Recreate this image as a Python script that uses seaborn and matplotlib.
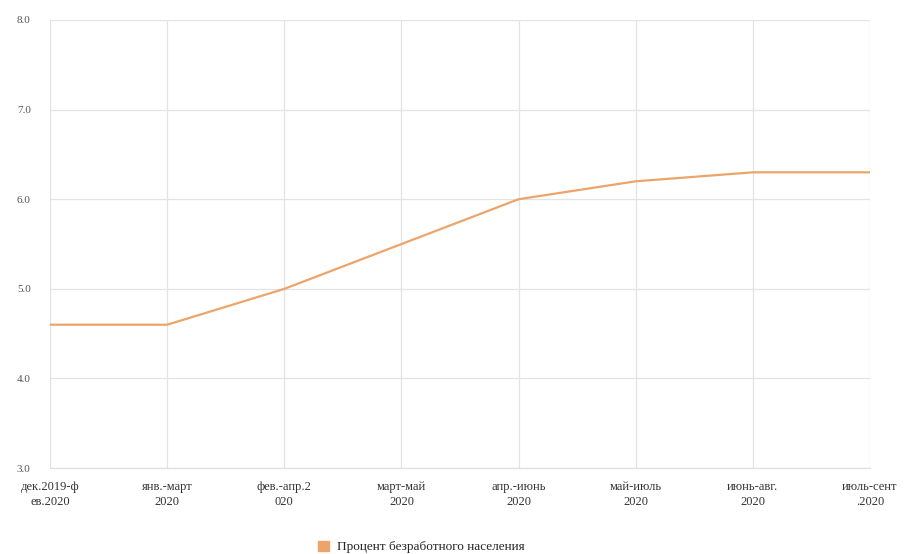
import matplotlib
matplotlib.use('Agg')
import matplotlib.pyplot as plt
import seaborn as sns
import pandas as pd

periods = ['дек.2019-ф\nев.2020', 'янв.-март\n2020', 'фев.-апр.2\n020', 'март-май\n2020',
           'апр.-июнь\n2020', 'май-июль\n2020', 'июнь-авг.\n2020', 'июль-сент\n.2020']
unemployment = [4.6, 4.6, 5.0, 5.5, 6.0, 6.2, 6.3, 6.3]
series_name = 'Процент безработного населения'
y_ticks = [3.0, 4.0, 5.0, 6.0, 7.0, 8.0]

sns.set_style('whitegrid')
plt.rcParams['font.family'] = ['Liberation Serif', 'DejaVu Serif']

df = pd.DataFrame({'period': periods, 'value': unemployment})
df['pos'] = range(len(periods))

fig = plt.figure(figsize=(9.11, 5.54), dpi=100)
ax = fig.add_axes([0.055, 0.155, 0.9, 0.809])
sns.lineplot(data=df, x='pos', y='value', color='#eda46a', linewidth=1.6,
             label=series_name, ax=ax, sort=False)

ax.set_xlim(0, len(periods) - 1)
ax.set_ylim(3.0, 8.0)
ax.set_xticks(df['pos'])
ax.set_xticklabels(periods, fontsize=9, color='#333333', linespacing=1.35)
ax.set_yticks(y_ticks)
ax.set_yticklabels([f'{v:.1f}' for v in y_ticks], fontsize=8, color='#555555')
ax.set_xlabel('')
ax.set_ylabel('')
ax.grid(True, color='#e3e3e3', linewidth=0.9)
for s in ['top', 'right', 'left']:
    ax.spines[s].set_visible(False)
ax.spines['bottom'].set_color('#dddddd')
ax.tick_params(axis='x', length=0, pad=9)
ax.tick_params(axis='y', length=0, pad=14)

ax.legend([plt.Rectangle((0, 0), 1, 1, color='#eda46a')], [series_name],
          loc='upper center', bbox_to_anchor=(0.453, -0.135), frameon=False,
          fontsize=9.5, handlelength=0.8, handleheight=0.8, handletextpad=0.6)

fig.savefig('out.png', dpi=100)
